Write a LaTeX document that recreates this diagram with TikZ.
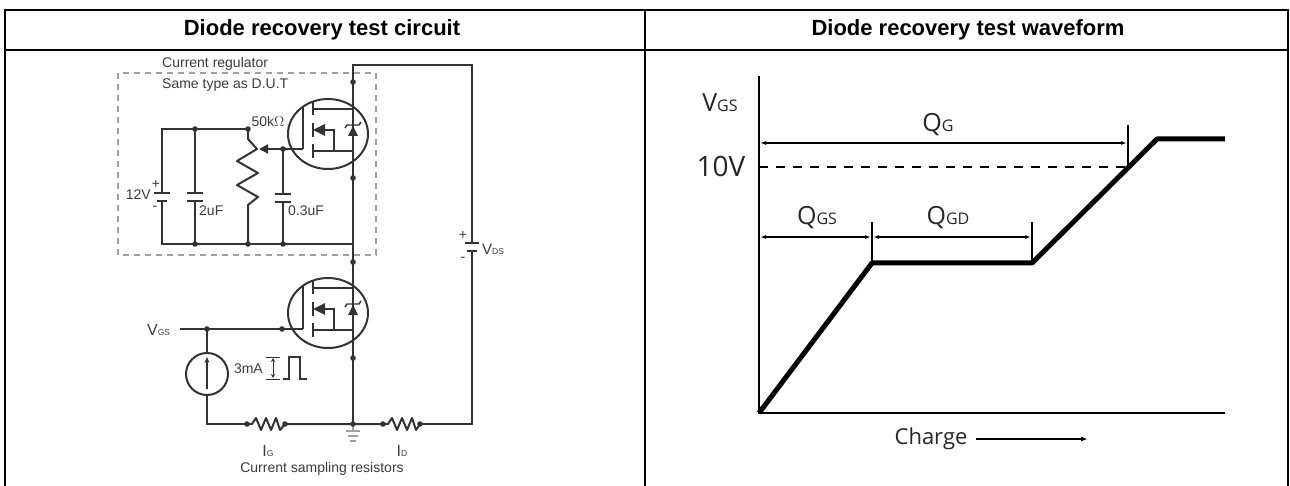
\documentclass[tikz,border=0pt]{standalone}
\usepackage{fontspec}
\setmainfont{Liberation Sans}
\newfontfamily\wavefont{Open Sans}
\usetikzlibrary{arrows.meta}
\definecolor{wirecol}{HTML}{333333}
\definecolor{boxcol}{HTML}{A0A0A0}
\definecolor{txtcol}{HTML}{3C3C3C}
\newcommand\smallsub[1]{{\fontsize{8.5}{9}\selectfont #1}}
\newcommand\wavesub[1]{{\fontsize{16}{16}\selectfont #1}}

\begin{document}
\begin{tikzpicture}[x=1pt,y=-1pt,
    wire/.style={draw=wirecol,line width=2pt},
    border/.style={draw=black,line width=2pt},
    head/.style={font=\fontsize{22}{24}\selectfont\bfseries},
    ctext/.style={text=txtcol,inner sep=0pt,font=\fontsize{14}{16}\selectfont},
    wtext/.style={text=black!85,inner sep=0pt,font=\wavefont\fontsize{25}{28}\selectfont},
    dim/.style={draw=black,line width=1.3pt},
    dimarrow/.style={dim,{Latex[length=6pt,width=4pt]}-{Latex[length=6pt,width=4pt]}}]
  \useasboundingbox (0,0) rectangle (1290,486);

  % table
  \draw[border] (5,489) -- (5,10) -- (1288,10) -- (1288,489);
  \draw[border] (5,50) -- (1288,50);
  \draw[border] (645,10) -- (645,489);
  \node[head] (lhead) at (322,30) {Diode recovery test circuit};
  \node[head] (rhead) at (968,30) {Diode recovery test waveform};

  % current regulator box
  \draw[boxcol,line width=1.2pt,dash pattern=on 6pt off 5pt] (118,73) rectangle (376,255);
  \node[ctext,anchor=west] (reglbl) at (162,64) {Current regulator};
  \node[ctext,anchor=west] (duttxt) at (162,85) {Same type as D.U.T};

  % main drain-source wire and outer loop
  \draw[wire] (353,424) -- (353,65) -- (472,65) -- (472,243);
  \draw[wire] (472,251) -- (472,424) -- (420,424);
  \draw[wire] (465,243) -- (479,243);
  \draw[wire] (467,251) -- (477,251);
  \node[ctext] (vdsplus) at (463,235) {+};
  \node[ctext] (vdsminus) at (463,259) {-};
  \node[ctext,anchor=west] (vdslbl) at (482,249) {\fontsize{15}{15}\selectfont V\smallsub{DS}};

  % MOSFETs
  \begin{scope}[shift={(328,134)}]
    \draw[wire] (0,0) ellipse [x radius=40, y radius=35];
    \draw[wire] (-15,-25) -- (25,-25);
    \draw[wire] (-15,17) -- (25,17);
    \draw[wire] (-15,-33) -- (-15,-19) (-15,-11) -- (-15,3) (-15,10) -- (-15,24);
    \draw[wire] (-25,-27) -- (-25,15);
    \fill[wirecol] (-15,-4) -- (-3,-10) -- (-3,2) -- cycle;
    \draw[wire] (-3,-4) -- (6,-4) -- (6,17);
    \fill[wirecol] (20,2) -- (30,2) -- (25,-8) -- cycle;
    \draw[wire,line width=1.4pt] (17,-6) -- (19,-9) -- (31,-9) -- (33,-12);
  \end{scope}
  \begin{scope}[shift={(328,313)}]
    \draw[wire] (0,0) ellipse [x radius=40, y radius=35];
    \draw[wire] (-15,-25) -- (25,-25);
    \draw[wire] (-15,17) -- (25,17);
    \draw[wire] (-15,-33) -- (-15,-19) (-15,-11) -- (-15,3) (-15,10) -- (-15,24);
    \draw[wire] (-25,-27) -- (-25,16);
    \fill[wirecol] (-15,-4) -- (-3,-10) -- (-3,2) -- cycle;
    \draw[wire] (-3,-4) -- (6,-4) -- (6,17);
    \fill[wirecol] (20,2) -- (30,2) -- (25,-8) -- cycle;
    \draw[wire,line width=1.4pt] (17,-6) -- (19,-9) -- (31,-9) -- (33,-12);
  \end{scope}

  % regulator network
  \draw[wire] (162,193) -- (162,129) -- (248,129);
  \draw[wire] (162,201) -- (162,244) -- (353,244);
  \draw[wire] (154,193) -- (170,193);
  \draw[wire] (157,201) -- (167,201);
  \node[ctext,anchor=east] (batlbl) at (151,195) {12V};
  \node[ctext] (batplus) at (156,184) {+};
  \node[ctext] (batminus) at (155,208) {-};
  \draw[wire] (195,129) -- (195,193) (195,201) -- (195,244);
  \draw[wire] (187,193) -- (203,193) (187,201) -- (203,201);
  \node[ctext,anchor=west] (c1lbl) at (199,211) {2uF};
  \draw[wire,line join=round] (248,129) -- (248,139) -- (257,149) -- (237,161) -- (258,173)
    -- (237,185) -- (258,197) -- (248,205) -- (248,244);
  \node[ctext] (potlbl) at (268,121) {50k$\Omega$};
  \draw[wire,-{Triangle[length=9pt,width=9pt]}] (303,149) -- (259,149);
  \draw[wire] (283,149) -- (283,194) (283,202) -- (283,244);
  \draw[wire] (275,194) -- (291,194) (275,202) -- (291,202);
  \node[ctext,anchor=west] (c2lbl) at (288,211) {0.3uF};

  % gate drive
  \node[ctext,anchor=west] (vgslbl) at (147,330) {\fontsize{16}{16}\selectfont V\smallsub{GS}};
  \draw[wire] (180,329) -- (303,329);
  \draw[wire] (207,329) -- (207,353) (207,395) -- (207,424) -- (252,424);
  \draw[wire] (207,374) circle (21);
  \draw[wire,-{Stealth[length=6pt,width=5pt]}] (207,389) -- (207,357);
  \node[ctext,anchor=east] (ilbl) at (263,369) {3mA};
  \draw[wirecol,line width=1pt] (266,357) -- (280,357) (266,379) -- (280,379);
  \draw[wirecol,line width=1pt,{Stealth[length=4pt,width=4pt]}-{Stealth[length=4pt,width=4pt]}] (273,358) -- (273,378);
  \draw[wire,line width=1.6pt] (283,379) -- (289,379) -- (289,357) -- (300,357) -- (300,379) -- (307,379);

  % sampling resistors
  \draw[wire,line join=round] (247,424) -- (252,424) -- (256,418) -- (261,430) -- (266,418) -- (271,430)
    -- (276,418) -- (280,430) -- (285,424) -- (383,424);
  \draw[wire,line join=round] (383,424) -- (388,424) -- (392,418) -- (397,430) -- (402,418) -- (407,430)
    -- (412,418) -- (416,430) -- (420,424);
  \node[ctext] (iglbl) at (268,451) {\fontsize{16}{16}\selectfont I\smallsub{G}};
  \node[ctext] (idlbl) at (402,451) {\fontsize{16}{16}\selectfont I\smallsub{D}};
  \node[ctext] (samplbl) at (322,469) {Current sampling resistors};
  \draw[boxcol,line width=1.2pt] (353,424) -- (353,431) (346,431) -- (360,431) (348,436) -- (358,436) (350,441) -- (356,441);

  % junction dots
  \foreach \p in {(353,82),(353,178),(353,262),(353,358),(353,424),(195,129),(248,129),(283,149),
      (195,244),(248,244),(283,244),(207,329),(282,329),(247,424),(285,424),(383,424),(420,424)}
    \fill[wirecol] \p circle (2.8);

  % waveform axes
  \draw[black,line width=2pt] (759,76) -- (759,413) -- (1225,413);
  \draw[black,line width=5pt,line join=round] (759,413) -- (872,263) -- (1032,263) -- (1157,139) -- (1225,139);
  \draw[black,line width=1.6pt,dash pattern=on 9pt off 8pt] (759,167) -- (1128,167);

  % charge intervals
  \draw[dimarrow] (760,143) -- (1127,143);
  \draw[dim] (1128,125) -- (1128,168);
  \draw[dimarrow] (760,237) -- (871,237);
  \draw[dimarrow] (873,237) -- (1031,237);
  \draw[dim] (872,222) -- (872,263);
  \draw[dim] (1032,222) -- (1032,263);

  \node[wtext] (qglbl) at (938,125) {Q\wavesub{G}};
  \node[wtext] (qgslbl) at (817,218) {Q\wavesub{GS}};
  \node[wtext] (qgdlbl) at (948,218) {Q\wavesub{GD}};
  \node[wtext] (vgsaxis) at (720,103) {V\wavesub{GS}};
  \node[wtext,font=\wavefont\fontsize{28}{30}\selectfont] (tenv) at (721,166) {10V};
  \node[wtext,font=\wavefont\fontsize{22}{26}\selectfont] (chglbl) at (931,439) {Charge};
  \draw[black,line width=1.6pt,-{Latex[length=7pt,width=5pt]}] (chglbl.east) ++(8,0) -- (1088,439);
\end{tikzpicture}
\end{document}
